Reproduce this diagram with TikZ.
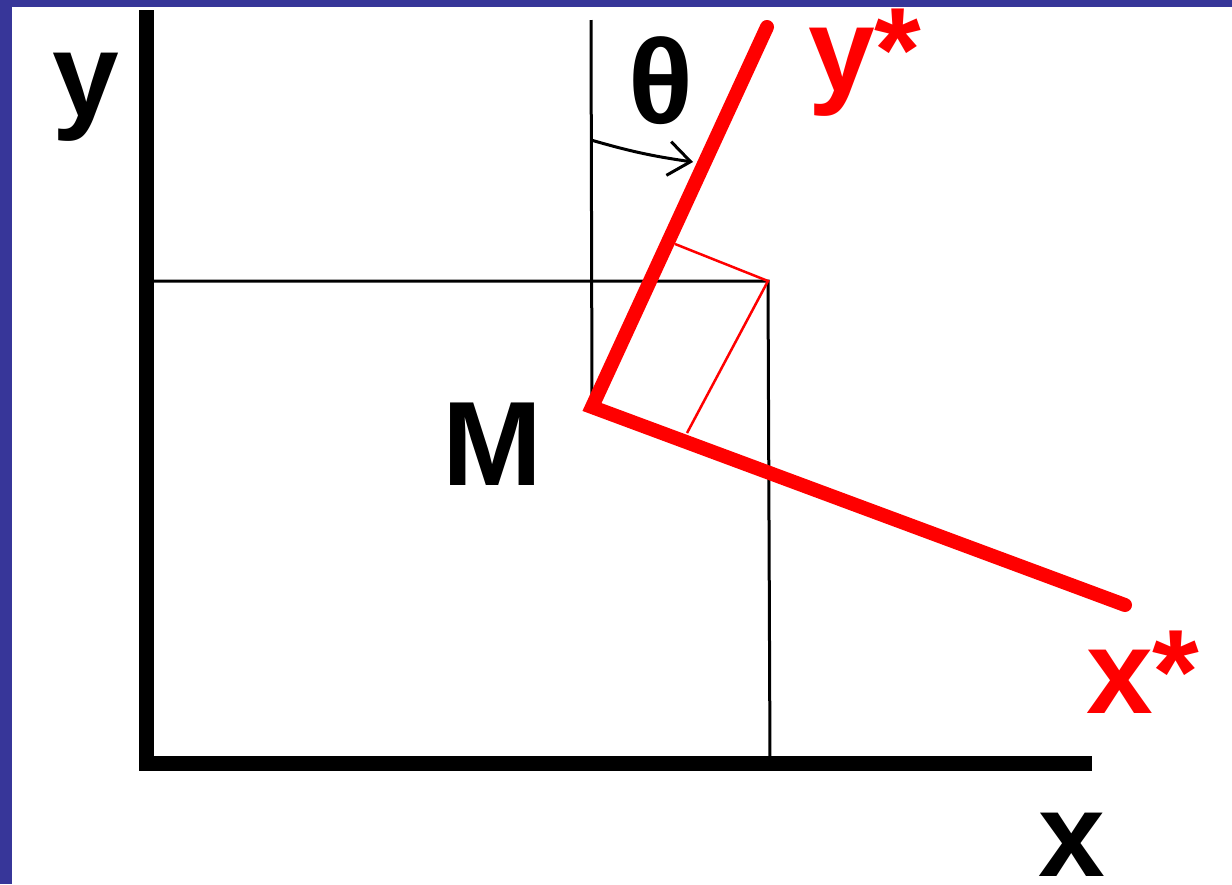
\documentclass[tikz,border=0pt]{standalone}
\usepackage{fontspec}
\setmainfont{Liberation Sans}
\usetikzlibrary{arrows.meta}
\definecolor{frameblue}{HTML}{373699}
\definecolor{axred}{HTML}{FF0000}
\tikzset{
  axisline/.style={line width=15pt, black, line join=miter},
  thinblack/.style={line width=3pt, black},
  redaxis/.style={line width=14pt, axred, line cap=round},
  thinred/.style={line width=2.5pt, axred},
  lbl/.style={font=\fontsize{120}{120}\selectfont\bfseries, inner sep=0pt, anchor=base west},
}
\begin{document}
\begin{tikzpicture}[x=1pt,y=-1pt]
\useasboundingbox (0,0) rectangle (1232,884);
\fill[frameblue] (0,0) rectangle (1232,884);
\fill[white] (12,7) rectangle (1232,884);
% points
\coordinate (Ytop) at (146,10);
\coordinate (O) at (146,763);
\coordinate (Xend) at (1092,763);
\coordinate (P) at (768,281);
\coordinate (Pb) at (770,763);
\coordinate (Py) at (146,281);
\coordinate (Vt) at (591,20);
\coordinate (M) at (592,407);
\coordinate (Ys) at (767,27);
\coordinate (Xs) at (1125,605);
\coordinate (Fy) at (675,244);
\coordinate (Fx) at (687,433);
\coordinate (A1) at (591,140);
\coordinate (A2) at (693,162);
% axes
\draw[axisline] (Ytop) -- (O) -- (Xend);
% thin black lines
\draw[thinblack] (Py) -- (P) -- (Pb);
\draw[thinblack] (Vt) -- (M);
% red rotated axes
\draw[redaxis] (Ys) -- (M) -- (Xs);
% projections
\draw[thinred] (Fy) -- (P) -- (Fx);
% angle arrow
\draw[thinblack, -{Straight Barb[length=22pt,width=34pt,line width=3pt]}] (A1) to[bend right=4] (A2);
% labels
\node[lbl] (ly) at (52,116) {y};
\node[lbl] (lth) at (628,123) {θ};
\node[lbl, text=axred] (lys) at (808,91) {y*};
\node[lbl] (lM) at (442,485) {M};
\node[lbl, text=axred] (lxs) at (1086,713) {x*};
\node[lbl] (lx) at (1038,876) {x};
\end{tikzpicture}
\end{document}
